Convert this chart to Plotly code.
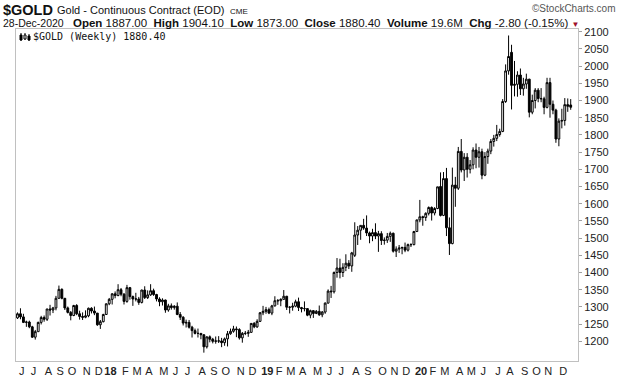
import pandas as pd
import plotly.graph_objects as go

# Weekly bars, Monday dates, from 2017-05-29 to 2020-12-28
dates = pd.date_range("2017-05-29", periods=188, freq="7D")

opens = [
 1268,1280,1271,1255,1256,1242,1212,1228,1255,1269,1264,1294,1291,1297,1325,1351,1325,1297,1284,1275,1304,1280,1272,1270,1274,1296,1288,1282,1248,1257,1278,
 1309,1322,1338,1333,1350,1337,1316,1356,1330,1323,1323,1313,1349,1327,1335,1347,1336,1323,1315,1320,1291,1303,1298,1302,1278,1270,1253,1255,1241,1231,1223,1223,1219,1184,1213,1206,1200,1201,1201,1196,1207,1222,1229,1236,1234,1210,1223,1223,1226,1252,1242,1258,1283,
 1287,1292,1282,1303,1318,1318,1322,1331,1299,1299,1302,1315,1298,1295,1295,1276,1289,1281,1287,1277,1285,1311,1346,1344,1400,1413,1400,1415,1427,1419,1450,1509,1523,1537,1529,1515,1506,1516,1506,1513,1493,1494,1505,1514,1462,1468,1471,1473,1465,1481,1481,1519,
 1553,1562,1560,1572,1589,1573,1586,1650,1566,1673,1530,1484,1654,1645,1752,1698,1735,1700,1713,1756,1735,1751,1683,1737,1753,1781,1790,1801,1810,1897,1986,2040,1944,1947,1974,1934,1948,1962,1866,1900,1930,1906,1905,1880,1952,1889,1872,1788,1840,1842,1888,1887.00,
]
highs = [
 1284,1296,1280,1260,1260,1245,1233,1257,1274,1275,1294,1306,1300,1332,1362,1354,1326,1301,1288,1306,1308,1289,1284,1290,1298,1299,1301,1282,1262,1280,1310,
 1326,1340,1345,1366,1355,1340,1364,1358,1333,1341,1329,1350,1360,1348,1366,1353,1338,1328,1325,1321,1309,1310,1305,1313,1285,1273,1263,1262,1245,1237,1237,1224,1220,1214,1217,1210,1214,1215,1210,1211,1230,1237,1245,1243,1238,1227,1230,1233,1253,1256,1264,1285,1303,
 1300,1298,1306,1331,1323,1325,1349,1332,1302,1312,1321,1327,1300,1316,1296,1292,1291,1291,1304,1288,1313,1351,1361,1403,1442,1440,1427,1453,1436,1460,1546,1535,1537,1556,1566,1519,1527,1543,1521,1520,1502,1515,1519,1516,1476,1480,1474,1487,1484,1485,1521,1553,
 1611,1565,1575,1592,1592,1590,1649,1691,1692,1704,1560,1705,1678,1765,1788,1747,1747,1727,1764,1775,1765,1760,1750,1760,1788,1800,1829,1818,1904,2005,2089,2062,2015,1985,1993,1966,1978,1963,1917,1936,1936,1936,1911,1966,1966,1900,1876,1848,1876,1907,1906,1904.10,
]
lows = [
 1265,1264,1253,1242,1238,1210,1205,1228,1249,1257,1259,1275,1282,1290,1324,1322,1291,1281,1261,1273,1276,1263,1262,1267,1270,1281,1276,1245,1236,1255,1277,
 1305,1307,1325,1331,1331,1307,1312,1321,1303,1316,1306,1310,1323,1323,1332,1332,1316,1302,1304,1283,1286,1292,1292,1276,1262,1246,1240,1237,1211,1220,1211,1206,1167,1179,1197,1194,1193,1195,1183,1187,1185,1219,1225,1212,1205,1196,1218,1213,1225,1238,1239,1256,1276,
 1280,1279,1276,1301,1306,1302,1321,1291,1281,1289,1299,1288,1284,1287,1273,1267,1268,1279,1274,1270,1280,1310,1326,1339,1385,1383,1387,1404,1410,1402,1445,1480,1495,1524,1506,1485,1491,1497,1460,1480,1481,1486,1489,1458,1445,1457,1453,1459,1461,1474,1479,1518,
 1546,1536,1550,1566,1551,1566,1584,1563,1564,1506,1451,1482,1591,1640,1691,1666,1676,1688,1700,1703,1705,1671,1680,1716,1744,1766,1782,1795,1808,1893,1975,1874,1912,1911,1916,1914,1934,1851,1860,1877,1895,1895,1860,1877,1850,1860,1777,1767,1819,1827,1867,1873.00,
]
closes = [
 1280,1271,1255,1256,1242,1212,1228,1255,1269,1264,1294,1291,1297,1325,1351,1325,1297,1284,1275,1304,1280,1272,1270,1274,1296,1288,1282,1248,1257,1278,1309,
 1322,1338,1333,1350,1337,1316,1356,1330,1323,1323,1313,1349,1327,1335,1347,1336,1323,1315,1320,1291,1303,1298,1302,1278,1270,1253,1255,1241,1231,1223,1223,1219,1184,1213,1206,1200,1201,1201,1196,1207,1222,1229,1236,1234,1210,1223,1223,1226,1252,1242,1258,1283,1287,
 1292,1282,1303,1318,1318,1322,1331,1299,1299,1302,1315,1298,1295,1295,1276,1289,1281,1287,1277,1285,1311,1346,1344,1400,1413,1400,1415,1427,1419,1457,1509,1523,1537,1529,1515,1506,1516,1506,1513,1493,1494,1505,1514,1462,1468,1471,1473,1465,1481,1481,1519,1553,
 1562,1560,1572,1589,1573,1586,1649,1566,1673,1530,1484,1654,1645,1752,1698,1735,1700,1713,1756,1735,1751,1683,1737,1753,1781,1790,1801,1810,1897,1986,2028,1944,1947,1974,1934,1948,1962,1866,1900,1930,1906,1905,1880,1952,1889,1872,1788,1840,1842,1888,1883.20,1880.40,
]

y_ticks = list(range(1200, 2101, 50))
volume_text = "19.6M"
last_date_text = "28-Dec-2020"

# month tick labels (placed at the first weekly bar of each month)
month_letters = "JFMAMJJASOND"
tick_vals, tick_text = [], []
for m in pd.date_range("2017-06-01", "2020-12-01", freq="MS"):
    first_mon = m + pd.Timedelta(days=(7 - m.weekday()) % 7)
    tick_vals.append(first_mon + pd.Timedelta(days=3))
    tick_text.append(f"<b>{m.strftime('%y')}</b>" if m.month == 1 else month_letters[m.month - 1])

W, H = 620, 376
L, R, T, B = 16, 42, 29, 15
pw, ph = W - L - R, H - T - B

def px(x):
    return (x - L) / pw

def py(y):
    return (H - B - y) / ph

fig = go.Figure(go.Candlestick(
    x=dates, open=opens, high=highs, low=lows, close=closes,
    increasing=dict(line=dict(color="black", width=1), fillcolor="white"),
    decreasing=dict(line=dict(color="black", width=1), fillcolor="black"),
    whiskerwidth=0, hoverinfo="skip", showlegend=False,
))

days_per_px = (dates[-1] - dates[0]).days / (570.7 - 17)
x0 = dates[0] - pd.Timedelta(days=1.5 * days_per_px)
x1 = dates[-1] + pd.Timedelta(days=7.3 * days_per_px)

# y range from pixel calibration: 2100 at y=31.7, 1200 at y=341.3
upp = 900 / (341.3 - 31.7)
y_top = 2100 + (31.7 - T) * upp
y_bot = 1200 - (H - B - 341.3) * upp

axis_font = dict(family="Liberation Sans, Arial, sans-serif", size=11, color="#222")

fig.update_layout(
    width=W, height=H,
    margin=dict(l=L, r=R, t=T, b=B, autoexpand=False),
    paper_bgcolor="white", plot_bgcolor="white",
    boxgap=0.12,
    xaxis=dict(type="date", range=[x0, x1], rangeslider=dict(visible=False),
               automargin=False,
               showgrid=False, zeroline=False, showline=True, mirror=True,
               linecolor="#c0c0c0", linewidth=1, ticks="",
               tickmode="array", tickvals=tick_vals, ticktext=tick_text,
               tickangle=0, tickfont=axis_font),
    yaxis=dict(side="right", range=[y_bot, y_top], showgrid=False, zeroline=False,
               automargin=False,
               showline=True, mirror=True, linecolor="#c0c0c0", linewidth=1,
               ticks="outside", ticklen=3, tickcolor="#a0a0a0",
               tickmode="array", tickvals=y_ticks,
               ticktext=[str(v) for v in y_ticks], tickfont=axis_font),
)

hdr = "Liberation Sans, Arial, sans-serif"
chg = closes[-1] - closes[-2]
pct = chg / closes[-2] * 100
sp = "&nbsp;"

row2 = (f"<b>Open</b> {opens[-1]:.2f}{sp}{sp}<b>High</b> {highs[-1]:.2f}{sp}{sp}"
        f"<b>Low</b> {lows[-1]:.2f}{sp}{sp}<b>Close</b> {closes[-1]:.2f}{sp}{sp}"
        f"<b>Volume</b> {volume_text}{sp}{sp}<b>Chg</b> {chg:.2f} ({pct:.2f}%)"
        f" <span style='color:#a0102a;font-size:8px'>▼</span>")

anns = [
    dict(text="<b>$GOLD</b>", x=px(2), y=py(10), font=dict(family=hdr, size=14.5, color="#111")),
    dict(text="Gold - Continuous Contract (EOD)", x=px(56), y=py(10.5), font=dict(family=hdr, size=11, color="#111")),
    dict(text="CME", x=px(229), y=py(11.5), font=dict(family=hdr, size=8, color="#111")),
    dict(text="©StockCharts.com", x=px(617), y=py(9), xanchor="right",
         font=dict(family=hdr, size=10, color="#555")),
    dict(text=last_date_text, x=px(2), y=py(23), font=dict(family=hdr, size=10.5, color="#111")),
    dict(text=row2, x=px(72), y=py(23), font=dict(family=hdr, size=11.5, color="#111")),
    dict(text=f"$GOLD (Weekly) {closes[-1]:.2f}", x=px(32), y=py(37),
         font=dict(family="DejaVu Sans Mono, monospace", size=10, color="#111")),
]
for a in anns:
    a.setdefault("xanchor", "left")
    a.update(xref="paper", yref="paper", yanchor="middle", showarrow=False, borderpad=0)
fig.update_layout(annotations=anns)

# small candlestick legend icon
icon = [
    dict(type="line", x0=px(21), x1=px(21), y0=py(41), y1=py(33)),
    dict(type="rect", x0=px(20), x1=px(22), y0=py(40), y1=py(35), fillcolor="black"),
    dict(type="line", x0=px(25), x1=px(25), y0=py(40), y1=py(33)),
    dict(type="rect", x0=px(24), x1=px(26), y0=py(39), y1=py(35), fillcolor="white"),
    dict(type="line", x0=px(29), x1=px(29), y0=py(41), y1=py(34)),
    dict(type="rect", x0=px(28), x1=px(30), y0=py(40), y1=py(36), fillcolor="black"),
]
for s in icon:
    s.update(xref="paper", yref="paper", line=dict(color="black", width=1))
fig.update_layout(shapes=icon)

fig.write_html(
    "out.html",
    config={"displayModeBar": False, "staticPlot": True},
    post_script="document.body.style.margin='0';document.body.style.overflow='hidden';",
)
